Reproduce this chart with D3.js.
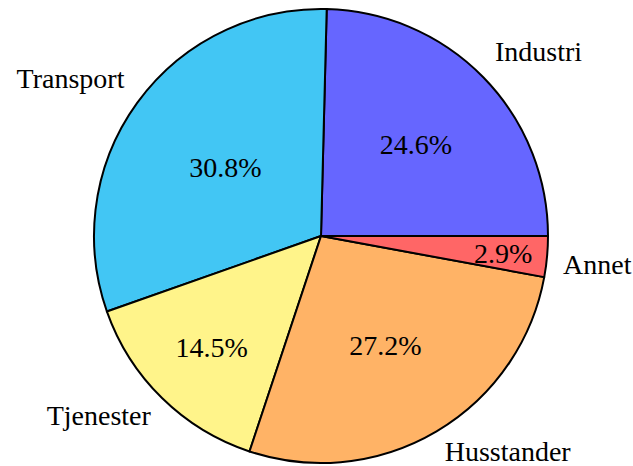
<!DOCTYPE html>
<html>
<head>
    <meta charset="utf-8">
    <script src="https://d3js.org/d3.v7.min.js"></script>
</head>
<body style="margin:0">
<script>
    // data
    const categories = ["Industri", "Transport", "Tjenester", "Husstander", "Annet"];
    const shares = [24.6, 30.8, 14.5, 27.2, 2.9];
    const colors = ["#6666ff", "#42c6f4", "#fff48a", "#ffb366", "#ff6666"];

    const width = 633, height = 466;
    const cx = 321, cy = 236, radius = 227;
    const fontSize = 28;

    const svg = d3.select("body")
        .append("svg")
        .attr("width", width)
        .attr("height", height);

    const g = svg.append("g")
        .attr("transform", `translate(${cx},${cy})`);

    // start at 3 o'clock and go counter-clockwise
    const pie = d3.pie()
        .sort(null)
        .value(d => d.value)
        .startAngle(Math.PI / 2)
        .endAngle(Math.PI / 2 - 2 * Math.PI);

    const data = categories.map((c, i) => ({name: c, value: shares[i], color: colors[i]}));
    const arcs = pie(data);

    const arc = d3.arc().innerRadius(0).outerRadius(radius);

    g.selectAll("path")
        .data(arcs)
        .join("path")
        .attr("d", arc)
        .attr("fill", d => d.data.color)
        .attr("stroke", "#000")
        .attr("stroke-width", 2)
        .attr("stroke-linejoin", "round");

    // percentage inside, radius shrinks for wide slices
    const pct = d3.format(".1f");
    const mids = arcs.map(d => (d.startAngle + d.endAngle) / 2);
    const innerR = d => {
        const span = Math.abs(d.endAngle - d.startAngle) * 180 / Math.PI;
        return (Math.max(Math.min(-0.3 * span / 110, 0), -0.5) + 0.8) * radius * 1.045;
    };

    g.selectAll("text.pct")
        .data(arcs)
        .join("text")
        .attr("class", "pct")
        .attr("font-family", "Liberation Serif")
        .attr("font-size", fontSize)
        .attr("text-anchor", "middle")
        .attr("x", (d, i) => innerR(d) * Math.sin(mids[i]))
        .attr("y", (d, i) => -innerR(d) * Math.cos(mids[i]) + 10)
        .text(d => pct(d.value) + "%");

    // category names outside, the corner facing the pie sits on the ring
    const outer = radius + 16;
    g.selectAll("text.name")
        .data(arcs)
        .join("text")
        .attr("class", "name")
        .attr("font-family", "Liberation Serif")
        .attr("font-size", fontSize)
        .attr("text-anchor", (d, i) => Math.sin(mids[i]) >= 0 ? "start" : "end")
        .attr("x", (d, i) => outer * Math.sin(mids[i]))
        .attr("y", (d, i) => {
            const py = -outer * Math.cos(mids[i]);
            return Math.cos(mids[i]) >= 0 ? py - 5 : py + fontSize * 0.66 - 3;
        })
        .text(d => d.data.name);
</script>
</body>
</html>
